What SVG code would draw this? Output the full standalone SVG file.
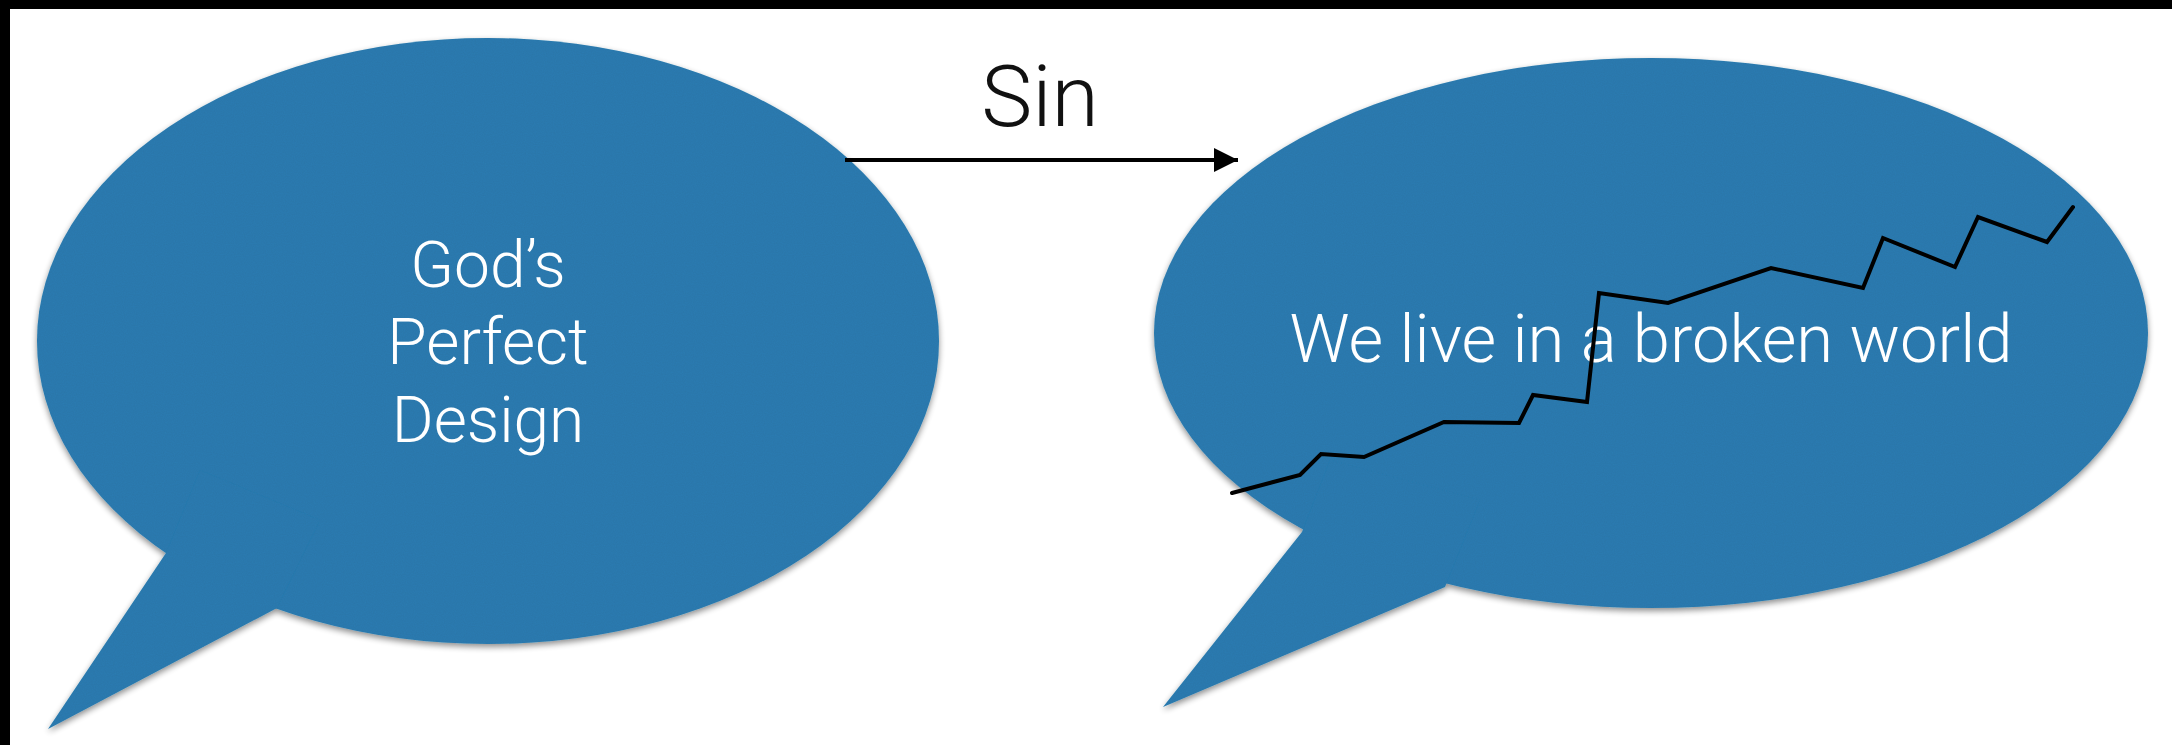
<svg xmlns="http://www.w3.org/2000/svg" width="2172" height="745" viewBox="0 0 2172 745">
  <style>
    .bubble { fill: #2d7db2; }
    .label { fill: #ffffff; font-family: Roboto, "Liberation Sans", sans-serif; font-weight: 300; text-anchor: middle; }
    .sin { fill: #111111; font-family: Roboto, "Liberation Sans", sans-serif; font-weight: 300; text-anchor: middle; font-size: 86px; }
    .crack { fill: none; stroke: #000000; stroke-width: 4; stroke-linejoin: miter; stroke-linecap: round; }
    .conn { fill: none; stroke: #000000; stroke-width: 4; }
  </style>
  <defs>
    <filter id="shadow" x="-10%" y="-10%" width="120%" height="125%">
      <feGaussianBlur in="SourceAlpha" stdDeviation="3" result="b"/>
      <feOffset in="b" dx="0" dy="3" result="o"/>
      <feComponentTransfer in="o" result="s"><feFuncA type="linear" slope="0.45"/></feComponentTransfer>
      <feTurbulence type="fractalNoise" baseFrequency="0.9" numOctaves="2" seed="3" result="n"/>
      <feColorMatrix in="n" type="matrix" values="0 0 0 0 0  0 0 0 0 0  0 0 0 0 0  0 0 0 0.12 0" result="na"/>
      <feComposite in="na" in2="SourceGraphic" operator="in" result="tex"/>
      <feMerge><feMergeNode in="s"/><feMergeNode in="SourceGraphic"/><feMergeNode in="tex"/></feMerge>
    </filter>
    <marker id="arrow" markerUnits="userSpaceOnUse" markerWidth="26" markerHeight="26" refX="24" refY="13" orient="auto">
      <path d="M0,1 L24,13 L0,25 Z" fill="#000000"/>
    </marker>
  </defs>

  <rect x="0" y="0" width="2172" height="745" fill="#ffffff"/>
  <rect x="0" y="0" width="2172" height="9" fill="#000000"/>
  <rect x="0" y="0" width="10" height="745" fill="#000000"/>

  <g id="node-design">
    <g filter="url(#shadow)">
      <ellipse class="bubble" cx="488" cy="341" rx="451" ry="303"/>
      <polygon class="bubble" points="166,553 48,729 277,608 320,520 200,470"/>
    </g>
    <text class="label" font-size="64" x="488" y="287">God’s</text>
    <text class="label" font-size="64" x="488" y="364">Perfect</text>
    <text class="label" font-size="64" x="488" y="442">Design</text>
  </g>

  <g id="node-broken">
    <g filter="url(#shadow)">
      <ellipse class="bubble" cx="1651" cy="333" rx="497" ry="275"/>
      <polygon class="bubble" points="1302,532 1163,707 1445,587 1480,500 1330,460"/>
    </g>
    <text class="label" font-size="67" x="1651" y="362">We live in a broken world</text>
    <polyline class="crack" points="1232,493 1300,475 1321,454 1364,457 1444,422 1519,423 1533,395 1587,402 1599,293 1668,303 1771,268 1863,288 1883,238 1955,267 1978,217 2047,242 2073,207"/>
  </g>

  <g id="connectors">
    <line class="conn" x1="845" y1="160" x2="1238" y2="160" marker-end="url(#arrow)"/>
    <text class="sin" x="1040" y="126">Sin</text>
  </g>
</svg>
